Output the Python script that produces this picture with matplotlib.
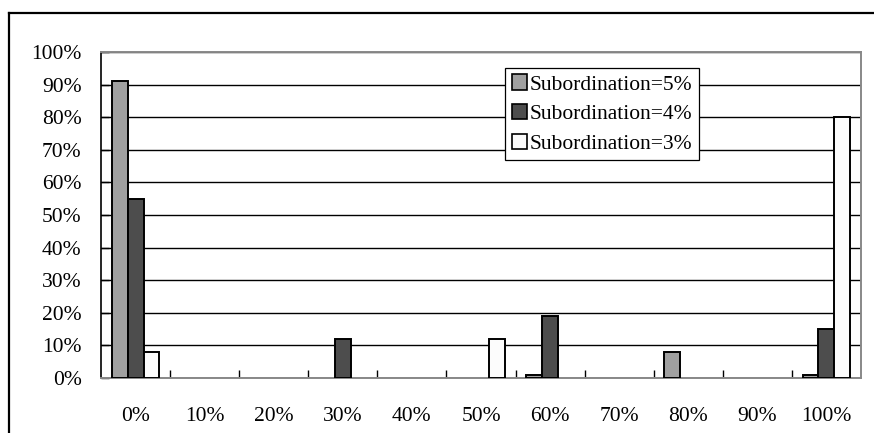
import numpy as np
import matplotlib
matplotlib.use('Agg')
import matplotlib.pyplot as plt
from matplotlib.lines import Line2D

categories = ['0%', '10%', '20%', '30%', '40%', '50%', '60%', '70%', '80%', '90%', '100%']
sub5 = [91, 0, 0, 0, 0, 0, 1, 0, 8, 0, 1]
sub4 = [55, 0, 0, 12, 0, 0, 19, 0, 0, 0, 15]
sub3 = [8, 0, 0, 0, 0, 12, 0, 0, 0, 0, 80]
series = [('Subordination=5%', sub5, '#a0a0a0'),
          ('Subordination=4%', sub4, '#4d4d4d'),
          ('Subordination=3%', sub3, '#fcfcfc')]

plt.rcParams['font.family'] = ['Liberation Serif', 'DejaVu Serif']
fs = 15.5
W, H = 874, 433

fig = plt.figure(figsize=(W / 100, H / 100), dpi=100)
ax = fig.add_axes([101 / W, 1 - 378 / H, 760 / W, 326 / H])

x = np.arange(len(categories))
bw = 0.231
for i, (name, vals, col) in enumerate(series):
    vals = np.array(vals, dtype=float)
    lw = np.where(vals > 0, 1.4, 0)
    ax.bar(x + (i - 1) * bw, vals / 100, width=bw, color=col,
           edgecolor='black', linewidth=lw, label=name, zorder=3)

ax.set_xlim(-0.5, len(categories) - 0.5)
ax.set_ylim(0, 1.0)
ax.set_yticks(np.arange(0, 1.01, 0.1))
ax.set_yticklabels([f'{int(round(v * 100))}%' for v in np.arange(0, 1.01, 0.1)], fontsize=fs)
ax.yaxis.grid(True, color='black', linewidth=1.0, zorder=0)
ax.set_axisbelow(True)
ax.tick_params(axis='y', direction='in', length=6, width=1, pad=14, color='black')

ax.set_xticks(x)
ax.set_xticklabels(categories, fontsize=fs)
ax.tick_params(axis='x', which='major', length=0, pad=21)
ax.set_xticks(np.arange(0.5, len(categories) - 1, 1), minor=True)
ax.tick_params(axis='x', which='minor', direction='in', length=6, width=1, color='black')

ax.spines['left'].set_color('black')
ax.spines['left'].set_linewidth(1.2)
for s in ['top', 'right', 'bottom']:
    ax.spines[s].set_color('#888888')
    ax.spines[s].set_linewidth(1.4)

handles = [plt.Rectangle((0, 0), 1, 1, facecolor=c, edgecolor='black', linewidth=1.2)
           for _, _, c in series]
leg = ax.legend(handles, [s[0] for s in series], loc='upper left',
                bbox_to_anchor=(0.532, 0.951), fontsize=fs, frameon=True,
                fancybox=False, edgecolor='black', framealpha=1,
                handlelength=0.7, handleheight=0.7, handletextpad=0.15,
                labelspacing=0.45, borderpad=0.3, borderaxespad=0)
leg.get_frame().set_linewidth(0.9)
leg.set_zorder(5)

# outer frame of the chart object
fig.add_artist(Line2D([9 / W, 1], [1 - 13 / H, 1 - 13 / H], color='black', linewidth=1.6,
                      transform=fig.transFigure))
fig.add_artist(Line2D([9 / W, 9 / W], [1 - 13 / H, 0], color='black', linewidth=1.6,
                      transform=fig.transFigure))

fig.savefig('out.png', dpi=100)
